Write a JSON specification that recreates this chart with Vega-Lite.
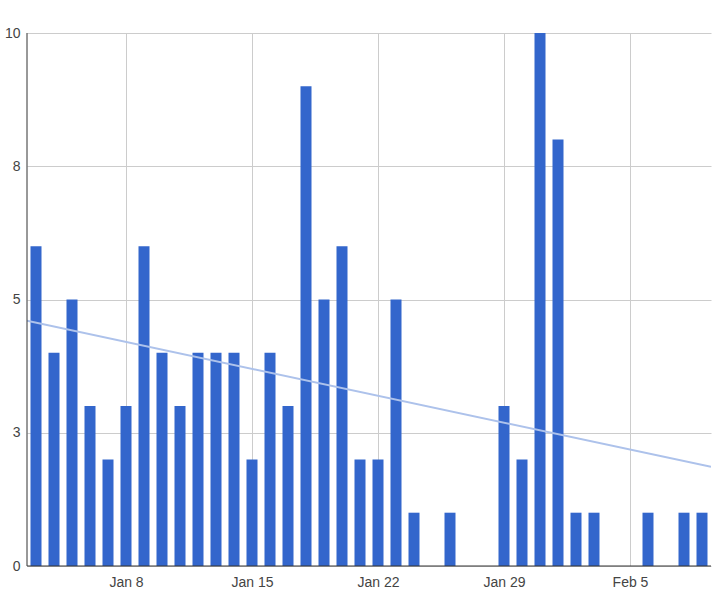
{
  "$schema": "https://vega.github.io/schema/vega-lite/v6.json",
  "width": 684,
  "height": 533,
  "autosize": {"type": "none"},
  "padding": {"left": 27, "top": 33, "right": 11, "bottom": 40},
  "background": "white",
  "config": {
    "view": {"stroke": null},
    "font": "Liberation Sans",
    "axis": {"labelFont": "Liberation Sans", "labelFontSize": 14, "labelColor": "#444444", "gridColor": "#cccccc", "gridWidth": 1, "domainColor": "#333333", "domainWidth": 1, "ticks": false, "title": null}
  },
  "datasets": {
    "counts": [
      {"date": "2013-01-03", "count": 6},
      {"date": "2013-01-04", "count": 4},
      {"date": "2013-01-05", "count": 5},
      {"date": "2013-01-06", "count": 3},
      {"date": "2013-01-07", "count": 2},
      {"date": "2013-01-08", "count": 3},
      {"date": "2013-01-09", "count": 6},
      {"date": "2013-01-10", "count": 4},
      {"date": "2013-01-11", "count": 3},
      {"date": "2013-01-12", "count": 4},
      {"date": "2013-01-13", "count": 4},
      {"date": "2013-01-14", "count": 4},
      {"date": "2013-01-15", "count": 2},
      {"date": "2013-01-16", "count": 4},
      {"date": "2013-01-17", "count": 3},
      {"date": "2013-01-18", "count": 9},
      {"date": "2013-01-19", "count": 5},
      {"date": "2013-01-20", "count": 6},
      {"date": "2013-01-21", "count": 2},
      {"date": "2013-01-22", "count": 2},
      {"date": "2013-01-23", "count": 5},
      {"date": "2013-01-24", "count": 1},
      {"date": "2013-01-25", "count": 0},
      {"date": "2013-01-26", "count": 1},
      {"date": "2013-01-27", "count": 0},
      {"date": "2013-01-28", "count": 0},
      {"date": "2013-01-29", "count": 3},
      {"date": "2013-01-30", "count": 2},
      {"date": "2013-01-31", "count": 10},
      {"date": "2013-02-01", "count": 8},
      {"date": "2013-02-02", "count": 1},
      {"date": "2013-02-03", "count": 1},
      {"date": "2013-02-04", "count": 0},
      {"date": "2013-02-05", "count": 0},
      {"date": "2013-02-06", "count": 1},
      {"date": "2013-02-07", "count": 0},
      {"date": "2013-02-08", "count": 1},
      {"date": "2013-02-09", "count": 1}
    ],
    "trend": [
      {"date": "2013-01-02T12:00:00Z", "count": 4.6},
      {"date": "2013-02-09T12:00:00Z", "count": 1.86}
    ]
  },
  "layer": [
    {
      "data": {"name": "counts"},
      "mark": {"type": "bar", "size": 11, "color": "#3366cc"},
      "encoding": {
        "x": {
          "field": "date", "type": "temporal",
          "scale": {"type": "utc", "padding": 0, "domain": [{"year": 2013, "month": 1, "date": 2, "hours": 12, "utc": true}, {"year": 2013, "month": 2, "date": 9, "hours": 12, "utc": true}]},
          "axis": {
            "format": "%b %-d",
            "labelPadding": 9,
            "labelBaseline": "top",
            "domain": false,
            "values": [
              {"year": 2013, "month": 1, "date": 8, "utc": true},
              {"year": 2013, "month": 1, "date": 15, "utc": true},
              {"year": 2013, "month": 1, "date": 22, "utc": true},
              {"year": 2013, "month": 1, "date": 29, "utc": true},
              {"year": 2013, "month": 2, "date": 5, "utc": true}
            ]
          }
        },
        "y": {
          "field": "count", "type": "quantitative",
          "scale": {"domain": [0, 10], "nice": false},
          "axis": {"values": [0, 2.5, 5, 7.5, 10], "labelExpr": "round(datum.value)", "labelPadding": 7, "domain": false, "grid": true}
        }
      }
    },
    {
      "data": {"name": "trend"},
      "mark": {"type": "line", "color": "#adc2eb", "strokeWidth": 2, "clip": true},
      "encoding": {
        "x": {"field": "date", "type": "temporal"},
        "y": {"field": "count", "type": "quantitative"}
      }
    },
    {
      "data": {"values": [{"zero": 0}]},
      "mark": {"type": "rule", "color": "#333333", "strokeWidth": 1},
      "encoding": {"y": {"field": "zero", "type": "quantitative"}}
    },
    {
      "data": {"values": [{"start": "2013-01-02T12:00:00Z"}]},
      "mark": {"type": "rule", "color": "#333333", "strokeWidth": 1},
      "encoding": {"x": {"field": "start", "type": "temporal"}}
    }
  ]
}
